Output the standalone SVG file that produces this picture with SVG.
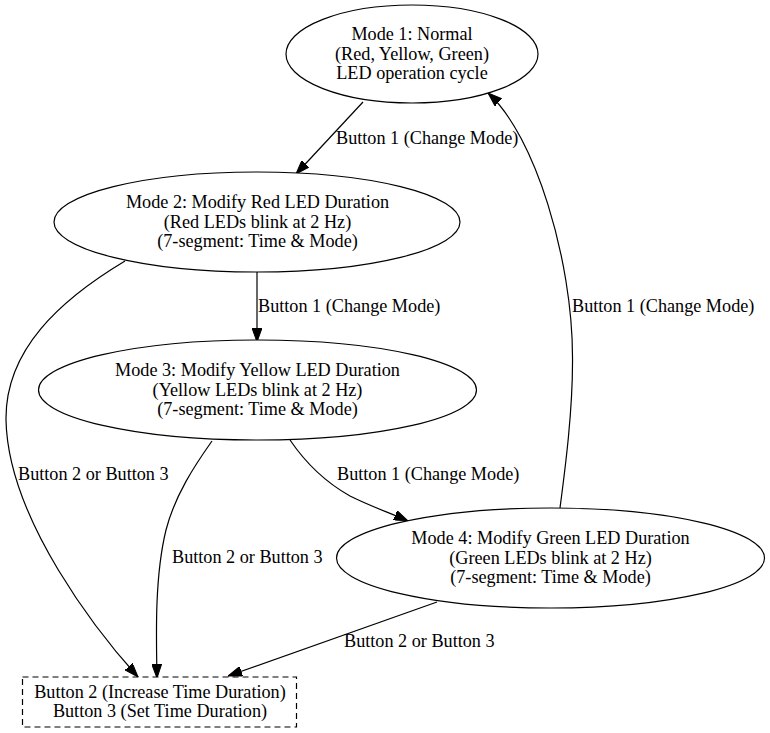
<svg xmlns="http://www.w3.org/2000/svg" width="770" height="733" viewBox="0 0 770 733">
<defs>
<style>
text { font-family: "Liberation Serif", "Times New Roman", serif; font-size: 18.2px; fill: #000; }
.c { text-anchor: middle; }
.node { fill: #fff; stroke: #000; stroke-width: 1.2; }
.edge { fill: none; stroke: #000; stroke-width: 1.2; marker-end: url(#arrow); }
.dash { stroke-dasharray: 6,4; }
</style>
<marker id="arrow" viewBox="0 0 14 10" refX="14" refY="5" markerWidth="14" markerHeight="10" markerUnits="userSpaceOnUse" orient="auto">
<path d="M0,0 L14,5 L0,10 z" fill="#000" stroke="#000" stroke-width="1"/>
</marker>
</defs>
<rect width="770" height="733" fill="#fff"/>

<g id="edges">
<path class="edge" d="M363,102 L296,174"/>
<path class="edge" d="M257,272 L257,342"/>
<path class="edge" d="M290,440 C305,462 325,482 350,496 C370,506 390,513 408,521"/>
<path class="edge" d="M560,508 C565,470 573,410 572.5,357 C572.5,260 535,135 488,93"/>
<path class="edge" d="M125,261 C60,300 5,350 6,420 C8,520 100,635 138,677"/>
<path class="edge" d="M212,441 C195,465 175,495 166,530 C155,575 156,630 157,678"/>
<path class="edge" d="M437,602 L228,676"/>
<text x="336" y="144">Button 1 (Change Mode)</text>
<text x="258" y="312">Button 1 (Change Mode)</text>
<text x="337" y="480">Button 1 (Change Mode)</text>
<text x="572" y="312">Button 1 (Change Mode)</text>
<text x="18" y="480">Button 2 or Button 3</text>
<text x="172" y="563">Button 2 or Button 3</text>
<text x="344" y="647">Button 2 or Button 3</text>
</g>

<g id="mode1">
<ellipse class="node" cx="412" cy="54" rx="126" ry="49"/>
<text class="c" x="412" y="40">Mode 1: Normal</text>
<text class="c" x="412" y="59.5">(Red, Yellow, Green)</text>
<text class="c" x="412" y="79">LED operation cycle</text>
</g>

<g id="mode2">
<ellipse class="node" cx="257" cy="222" rx="203" ry="50"/>
<text class="c" x="257.5" y="208">Mode 2: Modify Red LED Duration</text>
<text class="c" x="257.5" y="227.5">(Red LEDs blink at 2 Hz)</text>
<text class="c" x="257.5" y="247">(7-segment: Time &amp; Mode)</text>
</g>

<g id="mode3">
<ellipse class="node" cx="257.5" cy="390" rx="219" ry="50"/>
<text class="c" x="257.5" y="376">Mode 3: Modify Yellow LED Duration</text>
<text class="c" x="257.5" y="395.5">(Yellow LEDs blink at 2 Hz)</text>
<text class="c" x="257.5" y="415">(7-segment: Time &amp; Mode)</text>
</g>

<g id="mode4">
<ellipse class="node" cx="550.5" cy="558" rx="214" ry="50"/>
<text class="c" x="550.5" y="544">Mode 4: Modify Green LED Duration</text>
<text class="c" x="550.5" y="563.5">(Green LEDs blink at 2 Hz)</text>
<text class="c" x="550.5" y="583">(7-segment: Time &amp; Mode)</text>
</g>

<g id="buttons">
<rect class="node dash" x="22.5" y="677" width="274" height="50"/>
<text class="c" x="160" y="698">Button 2 (Increase Time Duration)</text>
<text class="c" x="160" y="717">Button 3 (Set Time Duration)</text>
</g>
</svg>
